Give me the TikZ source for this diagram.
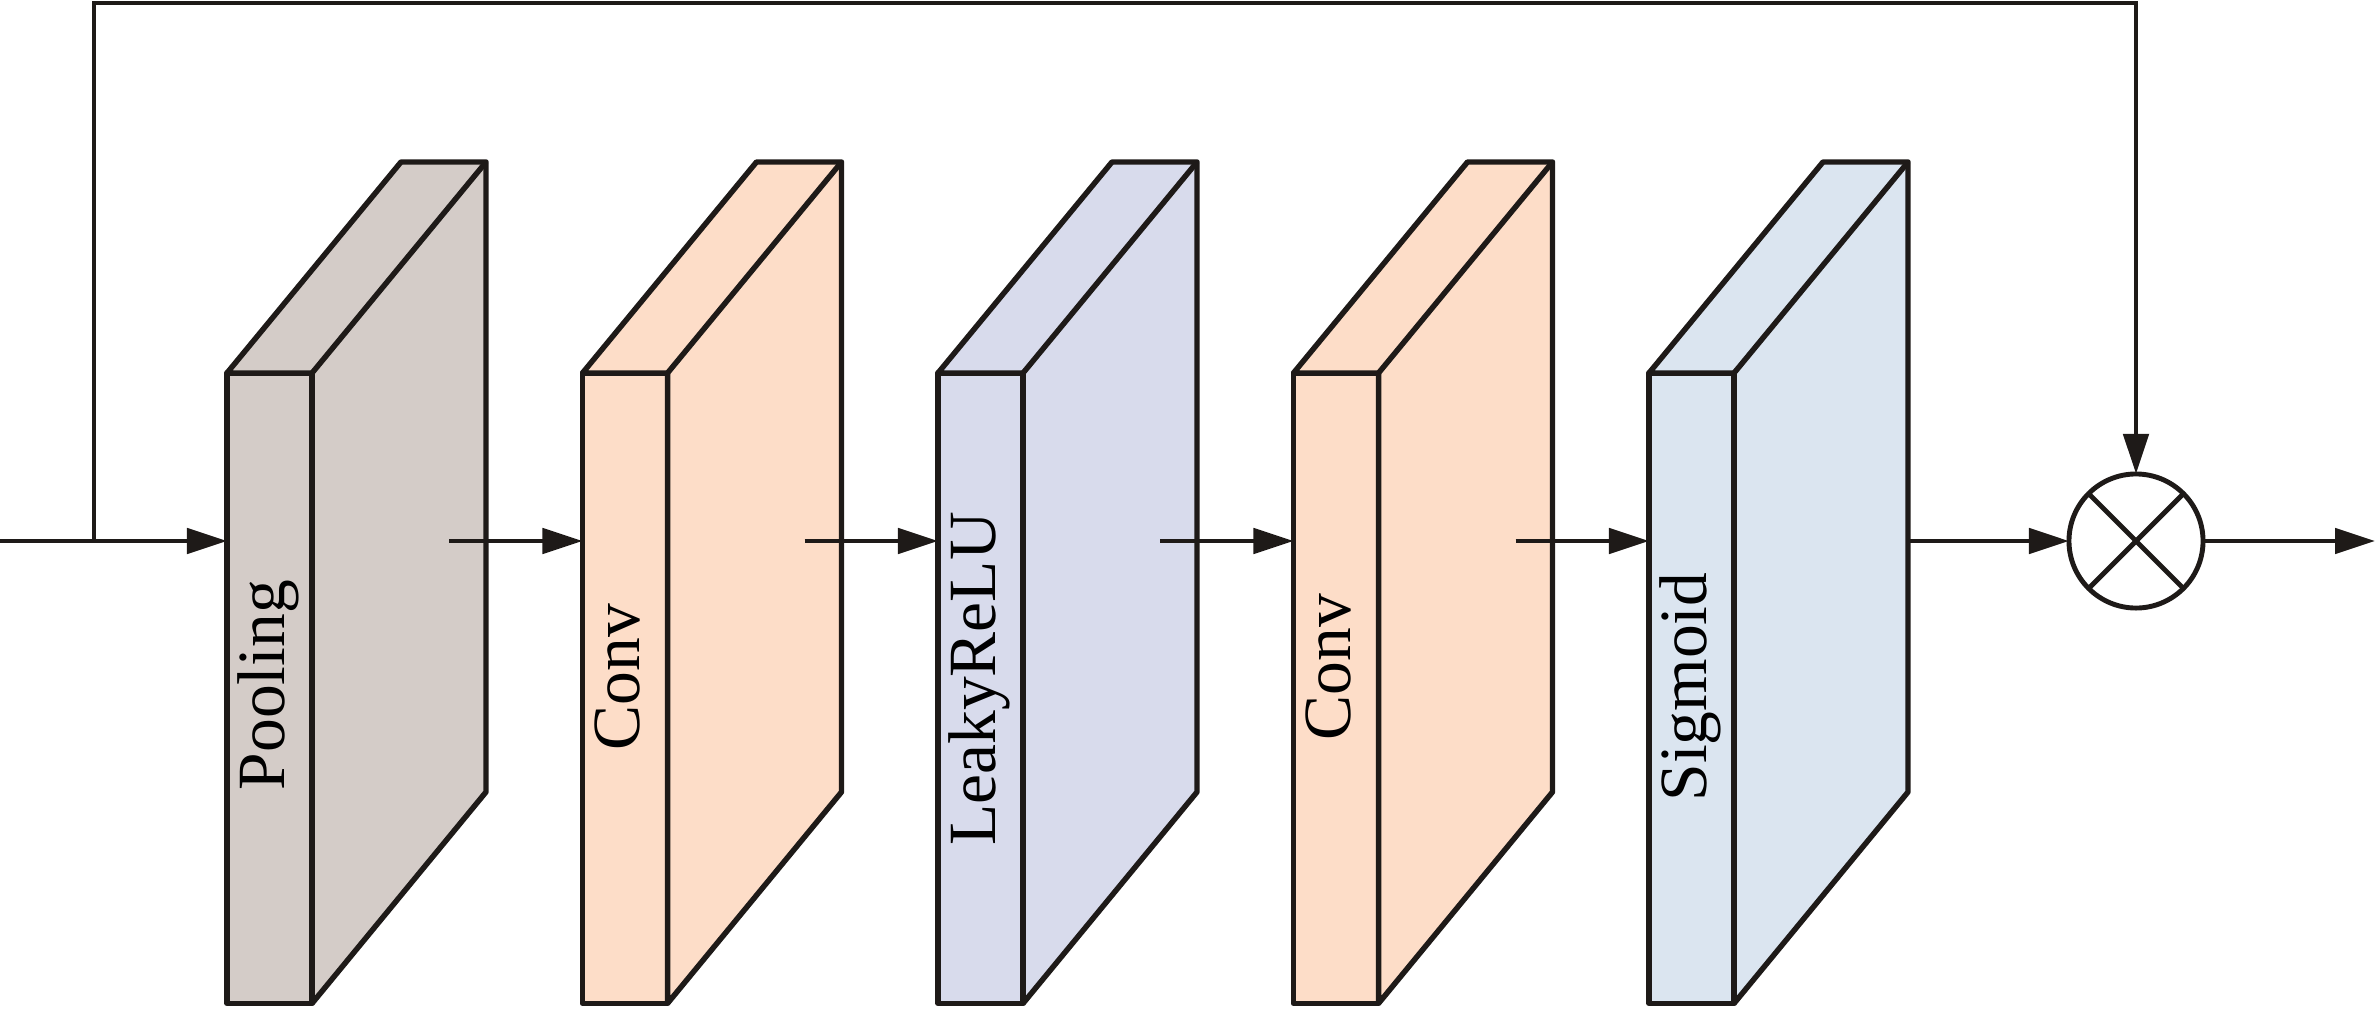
\documentclass[tikz,border=0pt]{standalone}
\usepackage{fontspec}
\setmainfont{Liberation Serif}
\usetikzlibrary{arrows.meta,calc}
\definecolor{edge}{RGB}{30,26,24}
\definecolor{grayc}{RGB}{212,204,200}
\definecolor{peach}{RGB}{253,221,200}
\definecolor{lav}{RGB}{216,219,236}
\definecolor{sky}{RGB}{219,229,240}
\begin{document}
\begin{tikzpicture}[x=0.01cm,y=-0.01cm,
  face/.style={draw=edge, line width=1.55pt, line join=round, inner sep=0pt, outer sep=0pt, minimum width=0.85cm, minimum height=6.3cm},
  slab/.style={draw=edge, line width=1.55pt, line join=round},
  lbl/.style={font=\fontsize{19.2}{21}\selectfont, rotate=90, anchor=base, inner sep=0pt},
  arr/.style={draw=edge, line width=1.4pt, -{Triangle[length=0.4cm,width=0.25cm]}},
  ln/.style={draw=edge, line width=1.4pt}]
\useasboundingbox (0,0) rectangle (2375,1021);
\foreach \i/\x/\c/\t/\ty in {1/227/grayc/Pooling/685, 2/582.5/peach/Conv/677, 3/938/lav/LeakyReLU/679, 4/1293.5/peach/Conv/667, 5/1649/sky/Sigmoid/687}{
  \node[face, fill=\c, anchor=north west] (f\i) at (\x,373) {};
  \filldraw[slab, fill=\c] (f\i.north west) -- ++(174,-211) -- ++(85,0) -- ++(0,630) -- (f\i.south east) -- (f\i.north east) -- cycle;
  \draw[slab] (f\i.north east) -- ++(174,-211);
  \node[lbl] (t\i) at (\x+57,\ty) {\t};
  \coordinate (s\i) at (\x+222,541);
}
\coordinate (s5) at (1908,541);
\node[draw=edge, line width=1.4pt, circle, minimum size=1.34cm, inner sep=0pt, outer sep=0pt] (m) at (2136,541) {};
\draw[ln] (m.45) -- (m.225);
\draw[ln] (m.135) -- (m.315);
\coordinate (in) at (0,541);
\coordinate (br) at (94,541);
\coordinate (tl) at (94,3);
\coordinate (tr) at (2136,3);
\coordinate (out) at (2375,541);
\draw[arr] (in) -- (f1.west |- in);
\draw[arr, line join=miter] (br) -- (tl) -- (tr) -- (m.north);
\draw[arr] (s1) -- (f2.west |- s1);
\draw[arr] (s2) -- (f3.west |- s2);
\draw[arr] (s3) -- (f4.west |- s3);
\draw[arr] (s4) -- (f5.west |- s4);
\draw[arr] (s5) -- (m.west);
\draw[arr] (m.east) -- (out);
\end{tikzpicture}
\end{document}
